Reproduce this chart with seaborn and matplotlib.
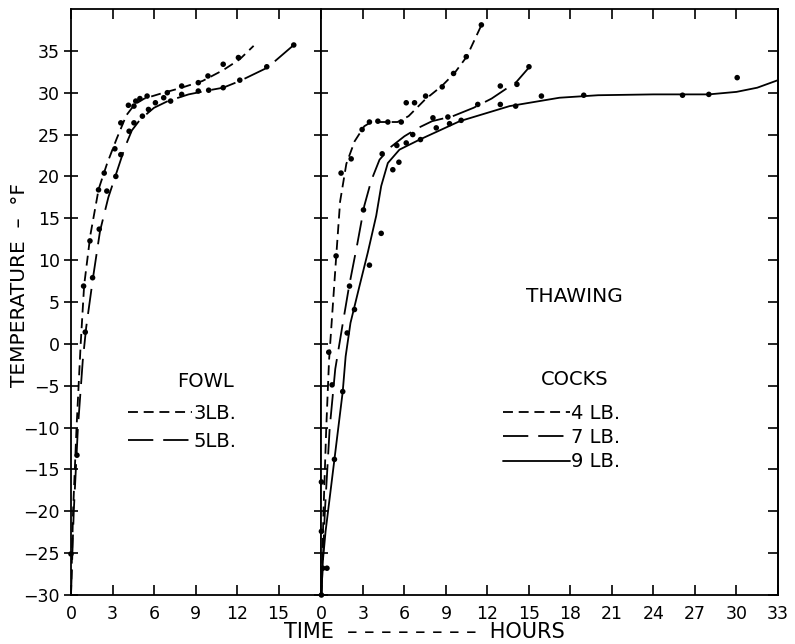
import numpy as np
import pandas as pd
import matplotlib
matplotlib.use("Agg")
import matplotlib.pyplot as plt
import seaborn as sns
from matplotlib.lines import Line2D

sns.set_theme(style="white")
plt.rcParams["font.family"] = ["DejaVu Sans"]
plt.rcParams["axes.edgecolor"] = "black"
plt.rcParams["axes.linewidth"] = 1.3
plt.rcParams["xtick.color"] = "black"
plt.rcParams["ytick.color"] = "black"
plt.rcParams["text.color"] = "black"
plt.rcParams["axes.labelcolor"] = "black"

# ---------------- data (hours, deg F) ----------------
# FOWL panel - drawn curves
fowl3_curve_x = [0, 0.15, 0.4, 0.7, 0.95, 1.4, 2.0, 2.6, 3.3, 4.0, 4.6, 5.3, 6.5, 8.0, 9.5, 11.0, 12.2, 13.2]
fowl3_curve_y = [-30, -20, -10, 0, 7, 13, 18.5, 21.5, 24.5, 27.3, 28.6, 29.3, 29.9, 30.6, 31.4, 32.7, 34.0, 35.6]
fowl5_curve_x = [0, 0.2, 0.5, 0.85, 1.1, 1.6, 2.1, 2.7, 3.3, 3.9, 4.4, 5.0, 6.0, 7.0, 8.5, 10.0, 11.0, 12.2, 14.2, 16.1]
fowl5_curve_y = [-30, -20, -10, -2, 2, 8, 13.5, 17.5, 20.5, 23.5, 25.5, 26.8, 28.2, 29.0, 29.8, 30.3, 30.6, 31.4, 33.0, 35.7]
# FOWL panel - observations
fowl3_pts_x = [0.43, 0.91, 1.37, 1.99, 2.4, 3.17, 3.6, 4.15, 4.55, 4.68, 4.98, 5.5, 6.96, 8.0, 9.2, 9.9, 11.0, 12.1]
fowl3_pts_y = [-13.3, 6.9, 12.3, 18.4, 20.4, 23.3, 26.4, 28.5, 28.4, 29.0, 29.3, 29.6, 30.0, 30.8, 31.2, 32.0, 33.4, 34.2]
fowl5_pts_x = [0, 1.03, 1.56, 2.04, 2.59, 3.24, 3.6, 4.2, 4.55, 5.16, 5.6, 6.1, 6.7, 7.2, 8.0, 9.2, 9.95, 11.0, 12.2, 14.15, 16.1]
fowl5_pts_y = [-25.1, 1.4, 7.9, 13.7, 18.25, 20.0, 22.6, 25.4, 26.4, 27.2, 28.0, 28.8, 29.4, 29.0, 29.8, 30.2, 30.3, 30.6, 31.5, 33.1, 35.7]

# COCKS panel - drawn curves
cock4_curve_x = [0, 0.15, 0.35, 0.55, 0.8, 1.05, 1.35, 1.8, 2.4, 3.1, 3.6, 5.5, 6.3, 7.5, 8.7, 9.6, 10.5, 11.6]
cock4_curve_y = [-30, -20, -10, -2, 4, 10, 17, 21.5, 24.2, 26.0, 26.5, 26.5, 27.2, 29.2, 30.8, 32.3, 34.3, 38.2]
cock7_curve_x = [0, 0.25, 0.6, 1.0, 1.5, 2.0, 2.6, 3.1, 3.6, 4.2, 5.0, 6.0, 7.0, 8.0, 9.5, 11.0, 12.3, 13.2, 14.1, 15.1]
cock7_curve_y = [-30, -20, -10, -3, 2, 6.9, 12, 16.5, 19.5, 22, 23.5, 24.8, 25.8, 26.6, 27.2, 28.2, 29.3, 30.3, 31.3, 33.2]
cock9_curve_x = [0, 0.1, 0.3, 0.94, 1.54, 1.75, 2.1, 2.75, 3.35, 3.96, 4.32, 4.8, 5.64, 7.1, 10.0, 13.6, 17.2,
                 20.0, 24.0, 28.0, 30.0, 31.5, 33.0]
cock9_curve_y = [-30, -26, -22.4, -13.8, -5.7, -1.5, 2.5, 6.9, 10.9, 15.3, 18.85, 21.6, 23.2, 24.4, 26.6, 28.4, 29.4,
                 29.7, 29.8, 29.8, 30.1, 30.6, 31.5]
# COCKS panel - observations
cock4_pts_x = [0, 0.53, 1.06, 1.42, 2.15, 2.94, 3.47, 4.08, 4.8, 5.77, 6.13, 6.73, 7.53, 8.73, 9.55, 10.47, 11.56]
cock4_pts_y = [-16.5, -1.0, 10.5, 20.4, 22.1, 25.6, 26.5, 26.6, 26.5, 26.5, 28.8, 28.8, 29.6, 30.7, 32.3, 34.3, 38.1]
cock7_pts_x = [0, 0.77, 2.03, 3.04, 4.39, 5.45, 6.6, 8.06, 9.14, 11.3, 12.93, 14.13, 15.0]
cock7_pts_y = [-22.4, -4.9, 6.9, 16.0, 22.7, 23.7, 25.0, 27.0, 27.1, 28.6, 30.8, 31.0, 33.1]
cock9_pts_x = [0, 0.1, 0.4, 0.94, 1.54, 1.86, 2.39, 3.47, 4.32, 5.16, 5.6, 6.13, 7.16, 8.3, 9.26, 10.1, 12.93,
               14.04, 15.9, 18.96, 26.1, 28.0, 30.05]
cock9_pts_y = [-30, -26.8, -26.8, -13.8, -5.7, 1.3, 4.1, 9.4, 13.2, 20.8, 21.7, 24.0, 24.4, 25.8, 26.3, 26.7, 28.6,
               28.4, 29.6, 29.7, 29.7, 29.8, 31.8]

fowl_labels = ["3LB.", "5LB."]
cock_labels = ["4 LB.", "7 LB.", "9 LB."]
left_xticks = [0, 3, 6, 9, 12, 15]
right_xticks = list(range(0, 34, 3))
yticks = list(range(-30, 40, 5))

SHORT = (0, (5.5, 3.2))
LONG = (0, (14, 5.5))
SOLID = "-"
LW = 1.3
FS = 12.5
TFS = 14

fig = plt.figure(figsize=(7.95, 6.44), dpi=100)
gs = fig.add_gridspec(1, 2, width_ratios=[18.1, 33], wspace=0,
                      left=71 / 795, right=778 / 795, bottom=1 - 595 / 644, top=1 - 9 / 644)
axL = fig.add_subplot(gs[0])
axR = fig.add_subplot(gs[1], sharey=axL)


def draw(ax, cx, cy, px, py, ls):
    df_c = pd.DataFrame({"t": cx, "T": cy})
    sns.lineplot(data=df_c, x="t", y="T", ax=ax, color="black", lw=LW, linestyle=ls,
                 sort=False, estimator=None)
    df_p = pd.DataFrame({"t": px, "T": py})
    sns.scatterplot(data=df_p, x="t", y="T", ax=ax, color="black", s=16, edgecolor="none",
                    zorder=3, clip_on=False)


draw(axL, fowl3_curve_x, fowl3_curve_y, fowl3_pts_x, fowl3_pts_y, SHORT)
draw(axL, fowl5_curve_x, fowl5_curve_y, fowl5_pts_x, fowl5_pts_y, LONG)
draw(axR, cock4_curve_x, cock4_curve_y, cock4_pts_x, cock4_pts_y, SHORT)
draw(axR, cock7_curve_x, cock7_curve_y, cock7_pts_x, cock7_pts_y, LONG)
draw(axR, cock9_curve_x, cock9_curve_y, cock9_pts_x, cock9_pts_y, SOLID)

axL.set_xlim(0, 18.1)
axR.set_xlim(0, 33)
axL.set_ylim(-30, 40)

for ax in (axL, axR):
    ax.set_xlabel("")
    ax.set_ylabel("")
    ax.tick_params(axis="x", direction="in", length=7, width=1.2, top=True, bottom=True,
                   labelsize=FS, pad=7)

axL.set_xticks(left_xticks)
axR.set_xticks(right_xticks)
axL.set_yticks(yticks)
axL.tick_params(axis="y", direction="inout", length=10, width=1.2, left=True, right=False,
                labelsize=FS, pad=3)
axR.tick_params(axis="y", left=True, right=False, labelleft=False, labelright=False,
                direction="inout", length=10, width=1.2)
sec = axR.secondary_yaxis("right")
sec.set_yticks(yticks)
sec.tick_params(direction="in", length=7, width=1.2, labelright=False)

# legends (titles as separate text)
h_fowl = [Line2D([], [], color="black", lw=LW, linestyle=SHORT),
          Line2D([], [], color="black", lw=LW, linestyle=LONG)]
axL.legend(h_fowl, fowl_labels, frameon=False, loc="upper left",
           bbox_to_anchor=(0.227, 0.326), handlelength=3.3, handletextpad=0.08,
           labelspacing=0.46, borderpad=0, borderaxespad=0, fontsize=TFS, labelcolor="black")
h_cock = [Line2D([], [], color="black", lw=LW, linestyle=SHORT),
          Line2D([], [], color="black", lw=LW, linestyle=LONG),
          Line2D([], [], color="black", lw=LW, linestyle=SOLID)]
axR.legend(h_cock, cock_labels, frameon=False, loc="upper left",
           bbox_to_anchor=(0.397, 0.326), handlelength=3.45, handletextpad=0.08,
           labelspacing=0.27, borderpad=0, borderaxespad=0, fontsize=TFS, labelcolor="black")

axL.text(9.7, -4.5, "FOWL", ha="center", va="center", fontsize=TFS, color="black")
axR.text(18.3, -4.2, "COCKS", ha="center", va="center", fontsize=TFS, color="black")
axR.text(18.3, 5.6, "THAWING", ha="center", va="center", fontsize=TFS + 0.5, color="black")

fig.text(20 / 795, 1 - 285 / 644, "TEMPERATURE  –  °F", rotation=90, ha="center", va="center",
         fontsize=14.5, color="black")
fig.text(424 / 795, 1 - 632 / 644, "TIME  – – – – – – – –  HOURS", ha="center", va="center",
         fontsize=15, color="black")

fig.savefig("out.png", dpi=100, facecolor="white")
